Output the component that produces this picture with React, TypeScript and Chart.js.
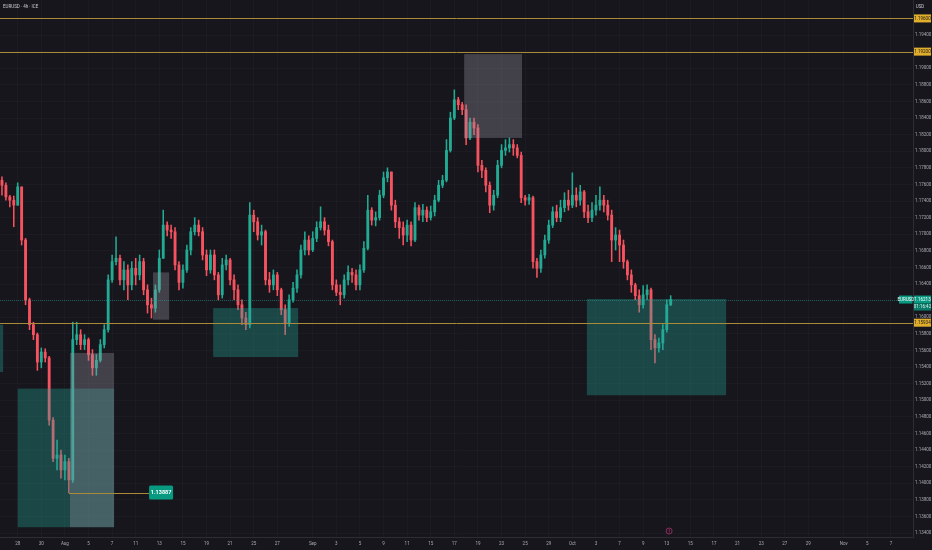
import React, { useEffect, useRef } from 'react';
import { Chart, registerables } from 'chart.js';

Chart.register(...registerables);

// ---- data (EURUSD, 8h resampled candles) ----
const firstOpen = 1.1765;
const closes = [
  1.1759, 1.1745, 1.1741, 1.1735, 1.1757, 1.1693, 1.1621, 1.1591, 1.1579, 1.1546,
  1.1558, 1.1551, 1.1476, 1.1430, 1.1434, 1.1416, 1.1426, 1.1404, 1.1573, 1.1579,
  1.1567, 1.1573, 1.1555, 1.1539, 1.1548, 1.1567, 1.1585, 1.1645, 1.1667, 1.1671,
  1.1645, 1.1657, 1.1639, 1.1659, 1.1651, 1.1667, 1.1633, 1.1615, 1.1611, 1.1633,
  1.1671, 1.1711, 1.1705, 1.1703, 1.1663, 1.1642, 1.1657, 1.1681, 1.1703, 1.1711,
  1.1703, 1.1675, 1.1657, 1.1675, 1.1651, 1.1627, 1.1663, 1.1669, 1.1645, 1.1633,
  1.1615, 1.1599, 1.1591, 1.1723, 1.1715, 1.1699, 1.1703, 1.1645, 1.1639, 1.1651,
  1.1633, 1.1609, 1.1593, 1.1621, 1.1635, 1.1651, 1.1681, 1.1693, 1.1681, 1.1695,
  1.1708, 1.1715, 1.1705, 1.1691, 1.1639, 1.1630, 1.1627, 1.1645, 1.1654, 1.1651,
  1.1639, 1.1657, 1.1683, 1.1729, 1.1717, 1.1720, 1.1747, 1.1768, 1.1775, 1.1735,
  1.1715, 1.1708, 1.1699, 1.1711, 1.1693, 1.1732, 1.1723, 1.1729, 1.1720, 1.1727,
  1.1741, 1.1759, 1.1765, 1.1801, 1.1840, 1.1862, 1.1856, 1.1850, 1.1816, 1.1835,
  1.1828, 1.1783, 1.1777, 1.1759, 1.1735, 1.1747, 1.1783, 1.1801, 1.1804, 1.1808,
  1.1804, 1.1795, 1.1744, 1.1741, 1.1744, 1.1667, 1.1659, 1.1675, 1.1693, 1.1711,
  1.1727, 1.1720, 1.1732, 1.1741, 1.1735, 1.1747, 1.1741, 1.1751, 1.1727, 1.1720,
  1.1729, 1.1735, 1.1741, 1.1735, 1.1723, 1.1693, 1.1699, 1.1687, 1.1667, 1.1651,
  1.1639, 1.1626, 1.1615, 1.1627, 1.1633, 1.1573, 1.1563, 1.1569, 1.1585, 1.1615,
  1.16213,
];
const highs = [
  1.1769, 1.1762, 1.1747, 1.1746, 1.1762, 1.1753, 1.1695, 1.1623, 1.1594, 1.1581,
  1.1563, 1.1562, 1.1553, 1.1479, 1.1452, 1.1440, 1.1434, 1.1430, 1.1594, 1.1594,
  1.1585, 1.1579, 1.1575, 1.1561, 1.1555, 1.1573, 1.1591, 1.1651, 1.1675, 1.1697,
  1.1675, 1.1667, 1.1663, 1.1667, 1.1671, 1.1675, 1.1671, 1.1639, 1.1623, 1.1639,
  1.1681, 1.1729, 1.1715, 1.1711, 1.1708, 1.1667, 1.1663, 1.1687, 1.1708, 1.1720,
  1.1717, 1.1708, 1.1681, 1.1681, 1.1681, 1.1654, 1.1671, 1.1675, 1.1671, 1.1651,
  1.1639, 1.1621, 1.1606, 1.1738, 1.1729, 1.1720, 1.1711, 1.1705, 1.1654, 1.1657,
  1.1654, 1.1635, 1.1615, 1.1627, 1.1642, 1.1657, 1.1687, 1.1703, 1.1698, 1.1703,
  1.1715, 1.1733, 1.1720, 1.1711, 1.1693, 1.1645, 1.1639, 1.1651, 1.1662, 1.1659,
  1.1657, 1.1663, 1.1691, 1.1747, 1.1732, 1.1727, 1.1753, 1.1775, 1.1780, 1.1775,
  1.1741, 1.1720, 1.1715, 1.1717, 1.1715, 1.1738, 1.1735, 1.1736, 1.1733, 1.1734,
  1.1747, 1.1765, 1.1771, 1.1814, 1.1847, 1.1874, 1.1865, 1.1859, 1.1856, 1.1840,
  1.1840, 1.1832, 1.1789, 1.1780, 1.1763, 1.1753, 1.1789, 1.1808, 1.1814, 1.1816,
  1.1814, 1.1808, 1.1799, 1.1747, 1.1748, 1.1746, 1.1671, 1.1681, 1.1699, 1.1717,
  1.1733, 1.1735, 1.1741, 1.1750, 1.1753, 1.1774, 1.1756, 1.1759, 1.1753, 1.1735,
  1.1738, 1.1747, 1.1757, 1.1747, 1.1741, 1.1729, 1.1708, 1.1705, 1.1693, 1.1669,
  1.1657, 1.1641, 1.1633, 1.1638, 1.1639, 1.1635, 1.1579, 1.1575, 1.1591, 1.1621,
  1.1626,
];
const lows = [
  1.1747, 1.1741, 1.1733, 1.1709, 1.1735, 1.1687, 1.1615, 1.1585, 1.1573, 1.1536,
  1.1539, 1.1546, 1.1470, 1.1426, 1.1416, 1.1406, 1.1404, 1.13887, 1.1401, 1.1567,
  1.1561, 1.1561, 1.1548, 1.1530, 1.1530, 1.1546, 1.1563, 1.1582, 1.1642, 1.1663,
  1.1639, 1.1633, 1.1621, 1.1633, 1.1639, 1.1645, 1.1627, 1.1605, 1.1599, 1.1606,
  1.1630, 1.1675, 1.1698, 1.1695, 1.1657, 1.1633, 1.1635, 1.1654, 1.1675, 1.1699,
  1.1698, 1.1669, 1.1650, 1.1653, 1.1645, 1.1621, 1.1623, 1.1657, 1.1639, 1.1621,
  1.1609, 1.1591, 1.1585, 1.1587, 1.1703, 1.1693, 1.1687, 1.1639, 1.1630, 1.1633,
  1.1626, 1.1603, 1.1579, 1.1589, 1.1618, 1.1630, 1.1647, 1.1675, 1.1675, 1.1679,
  1.1691, 1.1705, 1.1699, 1.1686, 1.1633, 1.1626, 1.1615, 1.1623, 1.1639, 1.1642,
  1.1633, 1.1633, 1.1654, 1.1681, 1.1711, 1.1710, 1.1717, 1.1744, 1.1763, 1.1729,
  1.1708, 1.1695, 1.1687, 1.1691, 1.1686, 1.1691, 1.1717, 1.1715, 1.1715, 1.1717,
  1.1722, 1.1739, 1.1756, 1.1763, 1.1799, 1.1838, 1.1850, 1.1844, 1.1808, 1.1814,
  1.1820, 1.1775, 1.1768, 1.1751, 1.1726, 1.1729, 1.1744, 1.1780, 1.1795, 1.1799,
  1.1795, 1.1792, 1.1738, 1.1735, 1.1736, 1.1659, 1.1648, 1.1654, 1.1671, 1.1689,
  1.1708, 1.1715, 1.1715, 1.1727, 1.1729, 1.1732, 1.1733, 1.1735, 1.1720, 1.1714,
  1.1715, 1.1723, 1.1729, 1.1727, 1.1717, 1.1667, 1.1681, 1.1667, 1.1659, 1.1645,
  1.1630, 1.1621, 1.1606, 1.1611, 1.1621, 1.1561, 1.1545, 1.1558, 1.1561, 1.1582,
  1.1614,
];

// x-axis: trading-day index (0 = Jul 28) and labels
const tickDays = [0, 2, 4, 6, 8, 10, 12, 14, 16, 18, 20, 22, 25, 27, 29, 31, 33, 35, 37, 39, 41, 43, 45, 47, 49, 51, 53, 55, 57, 59, 61, 63, 65, 67, 70, 72, 74];
const tickLabels = ['28', '30', 'Aug', '5', '7', '11', '13', '15', '19', '21', '25', '27', 'Sep', '3', '5', '9', '11', '15', '17', '19', '23', '25', '29', 'Oct', '3', '7', '9', '13', '15', '17', '21', '23', '27', '29', 'Nov', '5', '7'];
const barsPerDay = 3;
const firstDayBar = 4;

// y-axis price ticks
const priceTicks = [
  1.134, 1.136, 1.138, 1.14, 1.142, 1.144, 1.146, 1.148, 1.15, 1.152, 1.154,
  1.156, 1.158, 1.16, 1.162, 1.164, 1.166, 1.168, 1.17, 1.172, 1.174, 1.176,
  1.178, 1.18, 1.182, 1.184, 1.186, 1.188, 1.19, 1.192, 1.194, 1.196,
];

// drawings: [startBar, endBar, topPrice, bottomPrice]
const demandZones = [
  [-3, 0.3, 1.1591, 1.1534],
  [4, 28.5, 1.1514, 1.1347],
  [53.7, 75.3, 1.1611, 1.1552],
  [148.7, 184.1, 1.1622, 1.1506],
];
const supplyZones = [
  [17.3, 28.5, 1.1557, 1.1347],
  [38.4, 42.5, 1.1654, 1.1597],
  [117.5, 132.2, 1.1917, 1.1816],
];
const levels = [1.196, 1.192, 1.15934];
const swingLow = [17, 37.4, 1.13887]; // fromBar, toBar, price
const eventBar = 169.6;

const BG = '#17161c';
const UP = '#22ab94';
const DOWN = '#f7525f';
const TEXT = '#a9abb3';
const LEVEL = '#a98a38';
const FONT = 'Roboto, "DejaVu Sans", sans-serif';

const noPad = (s: any) => {
  s.paddingTop = 0;
  s.paddingBottom = 0;
  s.paddingLeft = 0;
  s.paddingRight = 0;
};

export default function App() {
  const ref = useRef<HTMLCanvasElement | null>(null);

  useEffect(() => {
    document.body.style.margin = '0';
    document.body.style.background = BG;
    const canvas = ref.current;
    if (!canvas) return;

    const opens = closes.map((_, i) => (i === 0 ? firstOpen : closes[i - 1]));
    const colors = closes.map((c, i) => (c >= opens[i] ? UP : DOWN));
    const bodies = closes.map((c, i) => ({ x: i, y: [opens[i], c] }));
    const wicks = closes.map((c, i) => ({
      x: i,
      y: [Math.min(lows[i], opens[i], c), Math.max(highs[i], opens[i], c)],
    }));
    const lastPrice = closes[closes.length - 1];

    const overlay = {
      id: 'overlay',
      beforeDraw(chart: any) {
        const ctx = chart.ctx;
        ctx.save();
        ctx.fillStyle = BG;
        ctx.fillRect(0, 0, chart.width, chart.height);
        ctx.restore();
      },
      afterDatasetsDraw(chart: any) {
        const { ctx, chartArea: ca } = chart;
        const xs = chart.scales.x;
        const ys = chart.scales.y;
        ctx.save();
        ctx.beginPath();
        ctx.rect(ca.left, ca.top, ca.right - ca.left, ca.bottom - ca.top);
        ctx.clip();
        const box = (z: number[], color: string) => {
          const x0 = xs.getPixelForValue(z[0]);
          const x1 = xs.getPixelForValue(z[1]);
          const y0 = ys.getPixelForValue(z[2]);
          const y1 = ys.getPixelForValue(z[3]);
          ctx.fillStyle = color;
          ctx.fillRect(x0, y0, x1 - x0, y1 - y0);
        };
        demandZones.forEach((z) => box(z, 'rgba(38,166,154,0.34)'));
        supplyZones.forEach((z) => box(z, 'rgba(150,150,162,0.34)'));

        // current price line
        const py = Math.round(ys.getPixelForValue(lastPrice)) + 0.5;
        ctx.strokeStyle = 'rgba(38,166,154,0.45)';
        ctx.lineWidth = 1;
        ctx.setLineDash([1, 1]);
        ctx.beginPath();
        ctx.moveTo(ca.left, py);
        ctx.lineTo(ca.right, py);
        ctx.stroke();
        ctx.setLineDash([]);

        // horizontal levels
        levels.forEach((p) => {
          const y = Math.round(ys.getPixelForValue(p)) + 0.5;
          ctx.strokeStyle = LEVEL;
          ctx.lineWidth = 1;
          ctx.beginPath();
          ctx.moveTo(ca.left, y);
          ctx.lineTo(ca.right, y);
          ctx.stroke();
        });

        // swing low line
        const sy = Math.round(ys.getPixelForValue(swingLow[2])) + 0.5;
        ctx.strokeStyle = LEVEL;
        ctx.beginPath();
        ctx.moveTo(xs.getPixelForValue(swingLow[0]), sy);
        ctx.lineTo(xs.getPixelForValue(swingLow[1]), sy);
        ctx.stroke();
        ctx.restore();
      },
      afterDraw(chart: any) {
        const { ctx, chartArea: ca } = chart;
        const xs = chart.scales.x;
        const ys = chart.scales.y;
        ctx.save();
        ctx.textBaseline = 'middle';

        // swing low label
        const sx = xs.getPixelForValue(swingLow[1]);
        const sy = ys.getPixelForValue(swingLow[2]);
        ctx.fillStyle = '#089981';
        ctx.beginPath();
        ctx.roundRect(sx, sy - 7, 24, 14, 1.5);
        ctx.fill();
        ctx.fillStyle = '#ffffff';
        ctx.font = `bold 5.5px ${FONT}`;
        ctx.textAlign = 'center';
        ctx.fillText(swingLow[2].toFixed(5), sx + 12, sy + 0.5);

        // level labels on the price axis
        const axX = ca.right + 1;
        ctx.font = `4.5px ${FONT}`;
        levels.forEach((p) => {
          const y = ys.getPixelForValue(p);
          ctx.fillStyle = '#e0ad2c';
          ctx.fillRect(axX, y - 4, 17, 8);
          ctx.fillStyle = '#1a1814';
          ctx.fillText(p.toFixed(5), axX + 8.5, y + 0.3);
        });

        // current price labels
        const py = ys.getPixelForValue(lastPrice);
        ctx.fillStyle = '#089981';
        ctx.fillRect(ca.right - 14, py - 4, 13.5, 8);
        ctx.fillRect(axX, py - 4, 17, 8);
        ctx.fillStyle = '#0b7a68';
        ctx.fillRect(axX, py + 4, 17, 7);
        ctx.fillStyle = '#ffffff';
        ctx.fillText('EURUSD', ca.right - 7.2, py + 0.3);
        ctx.fillText(lastPrice.toFixed(5), axX + 8.5, py + 0.3);
        ctx.fillStyle = '#d8f2ee';
        ctx.fillText('01:16:42', axX + 8.5, py + 7.5);

        // header texts
        ctx.textAlign = 'left';
        ctx.fillStyle = '#c9cbd2';
        ctx.font = `4.5px ${FONT}`;
        ctx.fillText('EURUSD · 4h · ICE', 3, 7);
        ctx.textAlign = 'center';
        ctx.fillText('USD', axX + 6, 7);

        // event marker at the bottom
        const ex = xs.getPixelForValue(eventBar);
        ctx.strokeStyle = '#a8336e';
        ctx.lineWidth = 0.8;
        ctx.beginPath();
        ctx.arc(ex, ca.bottom - 6, 3, 0, Math.PI * 2);
        ctx.stroke();
        ctx.fillStyle = '#a8336e';
        ctx.fillRect(ex - 0.3, ca.bottom - 8, 0.7, 3.5);
        ctx.restore();
      },
    };

    const chart = new Chart(canvas, {
      type: 'bar',
      data: {
        datasets: [
          {
            data: bodies as any,
            backgroundColor: colors,
            borderWidth: 0,
            barThickness: 2.2,
            minBarLength: 0.7,
            grouped: false,
            order: 0,
          } as any,
          {
            data: wicks as any,
            backgroundColor: colors,
            borderWidth: 0,
            barThickness: 0.9,
            grouped: false,
            order: 1,
          } as any,
        ],
      },
      options: {
        animation: false,
        responsive: false,
        maintainAspectRatio: false,
        layout: { padding: 0 },
        events: [],
        plugins: { legend: { display: false }, tooltip: { enabled: false } },
        scales: {
          x: {
            type: 'linear',
            min: -0.5,
            max: 231.6,
            offset: false,
            afterBuildTicks: (s: any) => {
              s.ticks = tickDays.map((d) => ({ value: firstDayBar + barsPerDay * d }));
            },
            afterFit: (s: any) => {
              s.height = 13;
              noPad(s);
            },
            ticks: {
              autoSkip: false,
              maxRotation: 0,
              padding: 4,
              color: TEXT,
              font: { size: 4.5, family: FONT },
              callback: (_v: any, i: number) => tickLabels[i],
            },
            grid: { color: 'rgba(255,255,255,0.025)', drawTicks: false, offset: false },
            border: { color: '#2e2d35' },
          } as any,
          y: {
            type: 'linear',
            position: 'right',
            min: 1.13352,
            max: 1.19822,
            afterBuildTicks: (s: any) => {
              s.ticks = priceTicks.map((v) => ({ value: v }));
            },
            afterFit: (s: any) => {
              s.width = 19;
              noPad(s);
            },
            ticks: {
              padding: 2,
              color: TEXT,
              font: { size: 4.5, family: FONT },
              callback: (v: any) => Number(v).toFixed(5),
            },
            grid: { color: 'rgba(255,255,255,0.025)', drawTicks: false },
            border: { color: '#2e2d35' },
          } as any,
        },
      },
      plugins: [overlay],
    });

    return () => chart.destroy();
  }, []);

  return (
    <div style={{ width: 932, height: 550, background: BG }}>
      <canvas ref={ref} width={932} height={550} style={{ display: 'block' }} />
    </div>
  );
}
